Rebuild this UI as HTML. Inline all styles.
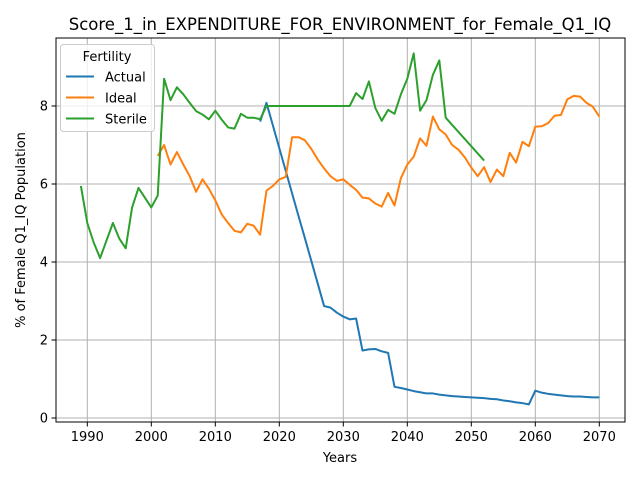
<!DOCTYPE html>
<html><head><meta charset="utf-8"><style>
body{margin:0;background:#fff;font-family:"Liberation Sans","DejaVu Sans",sans-serif}
svg text{font-family:"DejaVu Sans","Liberation Sans",sans-serif}
</style></head><body>
<svg id="c" width="640" height="480"></svg>
<script>
const actualYears=[2017,2018,2019,2020,2021,2022,2023,2024,2025,2026,2027,2028,2029,2030,2031,2032,2033,2034,2035,2036,2037,2038,2039,2040,2041,2042,2043,2044,2045,2046,2047,2048,2049,2050,2051,2052,2053,2054,2055,2056,2057,2058,2059,2060,2061,2062,2063,2064,2065,2066,2067,2068,2069,2070];
const actualVals=[7.6,8.08,7.5,6.92,6.34,5.76,5.18,4.61,4.03,3.45,2.87,2.83,2.7,2.6,2.53,2.55,1.73,1.76,1.77,1.71,1.67,0.8,0.77,0.73,0.69,0.66,0.63,0.63,0.6,0.58,0.56,0.55,0.54,0.53,0.52,0.51,0.49,0.48,0.45,0.43,0.4,0.38,0.35,0.7,0.65,0.62,0.6,0.58,0.56,0.55,0.55,0.54,0.53,0.53];
const idealStart=2001;
const idealVals=[6.72,7.0,6.5,6.82,6.5,6.2,5.8,6.12,5.88,5.58,5.22,5.0,4.8,4.76,4.98,4.93,4.7,5.83,5.95,6.12,6.18,7.2,7.2,7.12,6.9,6.63,6.4,6.2,6.08,6.12,5.98,5.85,5.65,5.63,5.5,5.42,5.77,5.45,6.15,6.5,6.7,7.17,6.98,7.73,7.4,7.27,7.0,6.88,6.68,6.42,6.2,6.43,6.05,6.37,6.2,6.8,6.55,7.08,6.97,7.47,7.48,7.56,7.75,7.77,8.17,8.26,8.24,8.08,7.98,7.73];
const sterileYears=[1989,1990,1991,1992,1993,1994,1995,1996,1997,1998,1999,2000,2001,2002,2003,2004,2005,2006,2007,2008,2009,2010,2011,2012,2013,2014,2015,2016,2017,2018,2031,2032,2033,2034,2035,2036,2037,2038,2039,2040,2041,2042,2043,2044,2045,2046,2052];
const sterileVals=[5.95,5.0,4.5,4.1,4.55,5.0,4.6,4.35,5.4,5.9,5.65,5.4,5.7,8.7,8.15,8.48,8.3,8.08,7.87,7.78,7.66,7.88,7.65,7.45,7.42,7.8,7.7,7.7,7.66,8.0,8.0,8.33,8.18,8.63,7.95,7.62,7.9,7.8,8.3,8.7,9.35,7.88,8.15,8.8,9.17,7.7,6.6];
const xTicks=[1990,2000,2010,2020,2030,2040,2050,2060,2070];
const yTicks=[0,2,4,6,8];
const NS='http://www.w3.org/2000/svg',svg=document.getElementById('c');
const L=56,R=625,T=38,B=422;
const xs=y=>87.3+6.4*(y-1990), ys=v=>418-39*v;
function el(t,a,p){const e=document.createElementNS(NS,t);for(const k in a)e.setAttribute(k,a[k]);(p||svg).appendChild(e);return e;}
const g=el('g',{});


xTicks.forEach(t=>{
 const l=el('line',{x1:xs(t),x2:xs(t),y1:T,y2:B,stroke:'#b0b0b0','stroke-width':1},g);
 
 
 el('line',{x1:xs(t),x2:xs(t),y1:B,y2:B+4.5,stroke:'#000','stroke-width':1});
 const tx=el('text',{x:xs(t),y:B+19,'font-size':13,'text-anchor':'middle'});tx.textContent=t;
 
 
});
yTicks.forEach(t=>{
 const l=el('line',{x1:L,x2:R,y1:ys(t),y2:ys(t),stroke:'#b0b0b0','stroke-width':1},g);
 
 
 el('line',{x1:L-4.5,x2:L,y1:ys(t),y2:ys(t),stroke:'#000','stroke-width':1});
 const tx=el('text',{x:L-8,y:ys(t)+4.5,'font-size':13,'text-anchor':'end'});tx.textContent=t;
 
 
});
function line(xsArr,vals,color,name){
 const p=el('polyline',{points:xsArr.map((x,i)=>xs(x)+','+ys(vals[i])).join(' '),fill:'none',stroke:color,'stroke-width':2,'stroke-linejoin':'round'});
 
 
}
line(actualYears,actualVals,'#1f77b4','actual-line');
line(idealVals.map((v,i)=>idealStart+i),idealVals,'#ff7f0e','ideal-line');
line(sterileYears,sterileVals,'#2ca02c','sterile-line');
el('rect',{x:L,y:T,width:R-L,height:B-T,fill:'none',stroke:'#000','stroke-width':1});
</script>
<svg width="640" height="480" style="position:absolute;left:0;top:0">
<text x="340" y="30" font-size="16.5" text-anchor="middle" style="font-family:'DejaVu Sans',sans-serif">Score_1_in_EXPENDITURE_FOR_ENVIRONMENT_for_Female_Q1_IQ</text>
<text x="340" y="462" font-size="13" text-anchor="middle" style="font-family:'DejaVu Sans',sans-serif">Years</text>
<text transform="translate(25,230) rotate(-90)" font-size="13" text-anchor="middle" style="font-family:'DejaVu Sans',sans-serif">% of Female Q1_IQ Population</text>
<g style="font-family:'DejaVu Sans',sans-serif">
<rect x="60.5" y="44.5" width="94" height="87" rx="3" fill="#fff" fill-opacity="0.8" stroke="#ccc"/>
<text x="107" y="61" font-size="13" text-anchor="middle">Fertility</text>
<line x1="66" x2="94" y1="76.5" y2="76.5" stroke="#1f77b4" stroke-width="2"/>
<text x="105" y="81.5" font-size="13">Actual</text>
<line x1="66" x2="94" y1="97.5" y2="97.5" stroke="#ff7f0e" stroke-width="2"/>
<text x="105" y="102.5" font-size="13">Ideal</text>
<line x1="66" x2="94" y1="118.5" y2="118.5" stroke="#2ca02c" stroke-width="2"/>
<text x="105" y="123.5" font-size="13">Sterile</text>
</g>
</svg>
</body></html>
